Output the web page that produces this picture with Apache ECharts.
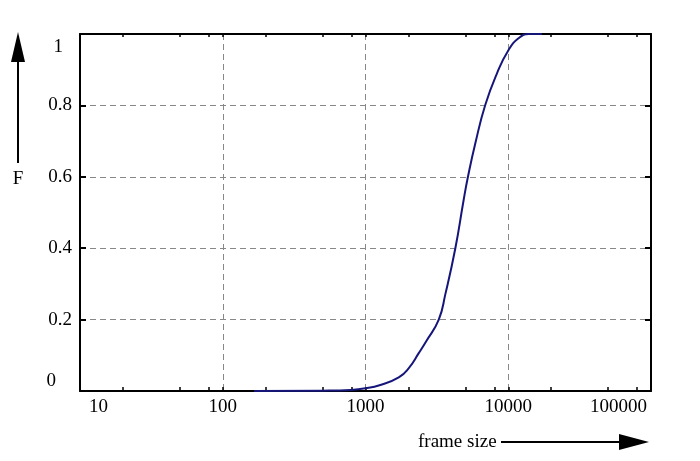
<!DOCTYPE html>
<html lang="en">
<head>
    <meta charset="UTF-8">
    <title>frame size F</title>
    <script src="https://cdn.jsdelivr.net/npm/echarts@6/dist/echarts.min.js"></script>
    <style>
        html, body { margin: 0; padding: 0; background: #fff; }
        #main { width: 700px; height: 461px; }
    </style>
</head>
<body>
<div id="main"></div>
<script type="text/javascript">
    // 数据：帧大小 与 累计分布 F
    var frameSize = [166, 500, 785, 1000, 1270, 1710, 2010, 2360, 2670, 3260, 3620, 4260, 4860, 5220, 5880, 6900, 8340, 10050, 11800, 13900, 17200];
    var cdfF      = [0, 0.001, 0.003, 0.0075, 0.017, 0.038, 0.064, 0.106, 0.14, 0.2, 0.27, 0.400, 0.533, 0.600, 0.694, 0.801, 0.89, 0.955, 0.988, 1.0, 1.0];
    // 次刻度 (2, 5, 8 每个数量级)
    var xMinorTicks = [20, 50, 80, 200, 500, 800, 2000, 5000, 8000, 20000, 50000, 80000];
    var xAllTicks = [20, 50, 80, 100, 200, 500, 800, 1000, 2000, 5000, 8000, 10000, 20000, 50000, 80000];

    var font = 'Liberation Serif';
    var chart = echarts.init(document.getElementById('main'));

    var points = frameSize.map(function (v, i) { return [v, cdfF[i]]; });

    var xLabelRich = {
        lo: { fontFamily: font, fontSize: 19, color: '#000', padding: [0, 0, 0, 9] },
        hi: { fontFamily: font, fontSize: 19, color: '#000', padding: [0, 4, 0, 0] }
    };
    var yLabelRich = {
        zero: { fontFamily: font, fontSize: 19, color: '#000', padding: [0, 16, 0, 0] },
        one: { fontFamily: font, fontSize: 19, color: '#000', padding: [4, 9, 0, 0] }
    };
    var gridDash = { color: '#888', type: [6, 4], width: 1 };

    var option = {
        animation: false,
        grid: { left: 80, right: 49, top: 34, bottom: 70 },
        xAxis: [
            {
                // 主轴：标签、网格线、十进制刻度
                type: 'log', logBase: 10, min: 10, max: 100000, position: 'bottom',
                axisLine: { onZero: false, lineStyle: { color: '#000', width: 2 } },
                axisTick: { inside: true, length: 4, lineStyle: { color: '#000', width: 1.5 } },
                axisLabel: {
                    fontFamily: font, fontSize: 19, color: '#000', margin: 7,
                    alignMinLabel: 'left', alignMaxLabel: 'right',
                    formatter: function (v) {
                        if (v <= 10) return '{lo|' + v + '}';
                        if (v >= 100000) return '{hi|' + v + '}';
                        return String(v);
                    },
                    rich: xLabelRich
                },
                splitLine: { show: true, showMinLine: false, showMaxLine: false, lineStyle: gridDash }
            },
            {
                // 顶部框线
                type: 'log', logBase: 10, min: 10, max: 100000, position: 'top',
                axisLine: { show: true, onZero: false, lineStyle: { color: '#000', width: 2 } },
                axisTick: { inside: true, length: 3, customValues: xAllTicks, lineStyle: { color: '#000', width: 1.5 } },
                axisLabel: { show: false },
                splitLine: { show: false }
            },
            {
                // 底部次刻度
                type: 'log', logBase: 10, min: 10, max: 100000, position: 'bottom',
                axisLine: { show: false, onZero: false },
                axisTick: { inside: true, length: 4, customValues: xMinorTicks, lineStyle: { color: '#000', width: 1.5 } },
                axisLabel: { show: false },
                splitLine: { show: false }
            }
        ],
        yAxis: [
            {
                type: 'value', min: 0, max: 1, interval: 0.2, position: 'left',
                axisLine: { show: true, onZero: false, lineStyle: { color: '#000', width: 2 } },
                axisTick: { show: true, inside: true, length: 6, lineStyle: { color: '#000', width: 2 } },
                axisLabel: {
                    fontFamily: font, fontSize: 19, color: '#000', margin: 8,
                    verticalAlignMinLabel: 'bottom', verticalAlignMaxLabel: 'top',
                    formatter: function (v) {
                        if (v === 0) return '{zero|0}';
                        if (v === 1) return '{one|1}';
                        return String(Math.round(v * 10) / 10);
                    },
                    rich: yLabelRich
                },
                splitLine: { show: true, showMinLine: false, showMaxLine: false, lineStyle: gridDash }
            },
            {
                type: 'value', min: 0, max: 1, interval: 0.2, position: 'right',
                axisLine: { show: true, onZero: false, lineStyle: { color: '#000', width: 2 } },
                axisTick: { show: true, inside: true, length: 6, lineStyle: { color: '#000', width: 2 } },
                axisLabel: { show: false },
                splitLine: { show: false }
            }
        ],
        series: [
            {
                type: 'line',
                data: points,
                smooth: 0.5,
                showSymbol: false,
                lineStyle: { color: '#16167a', width: 2 }
            }
        ],
        graphic: [
            // F 轴箭头
            { type: 'line', shape: { x1: 18, y1: 60, x2: 18, y2: 163 }, style: { stroke: '#000', lineWidth: 2 } },
            { type: 'polygon', shape: { points: [[18, 32], [11, 62], [25, 62]] }, style: { fill: '#000' } },
            { type: 'text', x: 18, y: 179, style: { text: 'F', fontFamily: font, fontSize: 19, fill: '#000', align: 'center', verticalAlign: 'middle' } },
            // frame size 箭头
            { type: 'text', x: 418, y: 442, style: { text: 'frame size', fontFamily: font, fontSize: 19, fill: '#000', align: 'left', verticalAlign: 'middle' } },
            { type: 'line', shape: { x1: 501, y1: 442, x2: 622, y2: 442 }, style: { stroke: '#000', lineWidth: 2 } },
            { type: 'polygon', shape: { points: [[649, 442], [619, 434], [619, 450]] }, style: { fill: '#000' } }
        ]
    };

    chart.setOption(option);
</script>
</body>
</html>
